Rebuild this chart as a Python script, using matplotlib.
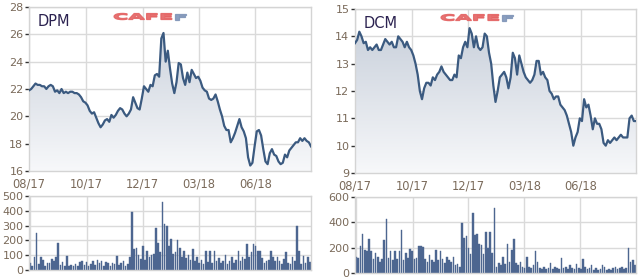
import numpy as np
import matplotlib
matplotlib.use("Agg")
import matplotlib.pyplot as plt
from matplotlib.textpath import TextPath
from matplotlib.patches import PathPatch
from matplotlib.font_manager import FontProperties
from matplotlib.transforms import Affine2D, IdentityTransform

# ---------------- data ----------------
x_labels = ["08/17", "10/17", "12/17", "03/18", "06/18"]
x_label_frac = [0.0, 0.203, 0.403, 0.603, 0.803]

dpm_price = [21.9, 22.0, 22.2, 22.4, 22.3, 22.3, 22.2, 22.2, 22.0, 22.2,
             22.3, 22.2, 21.8, 21.9, 21.7, 22.0, 21.7, 21.8, 21.7, 21.8,
             21.8, 21.7, 21.7, 21.6, 21.4, 21.1, 21.0, 20.8, 20.4, 20.2,
             20.3, 19.9, 19.5, 19.2, 19.4, 19.7, 19.8, 19.6, 20.1, 19.9,
             20.1, 20.4, 20.6, 20.5, 20.2, 20.0, 20.2, 20.5, 21.4, 21.0,
             20.6, 20.5, 21.3, 22.2, 22.0, 21.8, 22.3, 22.2, 23.0, 23.1,
             22.9, 25.7, 26.1, 24.0, 24.8, 23.5, 22.4, 21.7, 22.5, 23.9,
             23.8, 22.8, 22.3, 23.2, 22.5, 23.4, 23.1, 22.8, 22.9, 22.6,
             22.1, 21.9, 21.8, 21.3, 21.2, 21.3, 21.6, 21.1, 20.5, 20.0,
             19.3, 19.0, 19.0, 18.1, 18.4, 18.8, 19.3, 19.8, 19.2, 18.9,
             18.4, 17.0, 16.4, 16.6, 17.8, 18.9, 19.0, 18.6, 17.6, 16.7,
             16.5, 17.3, 17.6, 17.2, 17.1, 16.7, 16.5, 16.6, 17.2, 17.0,
             17.5, 17.7, 17.9, 18.1, 18.1, 18.4, 18.2, 18.4, 18.2, 18.1,
             17.8]

dpm_volume = [50, 30, 85, 250, 40, 85, 70, 30, 50, 45,
              75, 60, 85, 180, 35, 55, 25, 95, 30, 35,
              25, 40, 30, 55, 60, 35, 55, 30, 40, 60,
              35, 65, 45, 60, 30, 55, 45, 30, 50, 40,
              95, 35, 45, 60, 30, 40, 85, 395, 140, 150,
              100, 75, 165, 70, 130, 90, 100, 110, 285, 180,
              120, 460, 310, 300, 160, 210, 110, 120, 200, 150,
              90, 130, 80, 100, 70, 140, 60, 90, 45, 70,
              40, 130, 55, 130, 45, 130, 60, 80, 50, 60,
              100, 40, 60, 90, 50, 70, 130, 60, 85, 75,
              175, 90, 120, 175, 160, 130, 130, 80, 45, 60,
              70, 130, 90, 60, 85, 60, 40, 75, 120, 50,
              40, 85, 60, 300, 130, 40, 95, 50, 90, 55]

dcm_price = [13.75, 13.87, 14.17, 14.0, 13.75, 13.8, 13.5, 13.6, 13.5, 13.6,
             13.7, 13.5, 13.5, 13.7, 13.9, 13.8, 13.7, 13.8, 13.6, 13.6,
             14.0, 13.9, 13.8, 13.6, 13.8, 13.6, 13.5, 13.3, 13.0, 12.6,
             12.0, 11.7, 12.1, 12.3, 12.3, 12.2, 12.5, 12.4, 12.6, 12.7,
             12.9, 12.7, 12.6, 12.5, 12.4, 12.4, 12.6, 12.5, 13.3, 13.2,
             13.6, 13.8, 13.6, 14.3, 14.1, 13.6, 14.0, 13.6, 13.5, 13.6,
             14.1, 14.0, 13.4, 13.0, 12.2, 11.6, 12.0, 12.5, 12.6, 12.7,
             12.5, 12.1, 12.5, 13.4, 13.2, 12.6, 13.3, 13.0, 12.7, 12.5,
             12.4, 12.3, 12.4, 12.6, 13.1, 13.1, 12.6, 12.7, 12.5, 12.4,
             12.0, 11.9, 11.7, 11.8, 11.8, 11.5, 11.4, 11.3, 11.1, 10.8,
             10.5, 10.0, 10.3, 10.5, 11.0, 10.9, 11.7, 11.4, 11.5, 11.1,
             10.6, 11.0, 10.8, 10.8, 10.6, 10.1, 10.0, 10.2, 10.1, 10.2,
             10.3, 10.2, 10.3, 10.4, 10.3, 10.3, 10.3, 11.0, 11.1, 10.9,
             10.9]

dcm_volume = [130, 120, 210, 310, 180, 170, 270, 170, 110, 160,
              130, 90, 110, 260, 430, 120, 170, 100, 170, 110,
              170, 340, 100, 160, 120, 190, 170, 110, 120, 210,
              215, 205, 110, 90, 140, 100, 90, 180, 100, 170,
              110, 80, 130, 100, 90, 130, 60, 70, 50, 395,
              280, 290, 200, 150, 470, 300, 310, 230, 220, 150,
              320, 200, 320, 160, 515, 50, 80, 60, 130, 70,
              230, 90, 180, 270, 80, 60, 90, 50, 40, 130,
              50, 40, 60, 170, 90, 40, 30, 50, 30, 40,
              80, 30, 50, 40, 30, 120, 40, 50, 30, 60,
              40, 30, 70, 40, 30, 110, 50, 30, 40, 60,
              25, 40, 20, 30, 60, 50, 20, 30, 25, 40,
              50, 30, 40, 50, 30, 40, 200, 90, 100, 60]

dpm_yticks = [16, 18, 20, 22, 24, 26, 28]
dpm_vticks = [0, 100, 200, 300, 400, 500]
dcm_yticks = [9, 10, 11, 12, 13, 14, 15]
dcm_vticks = [0, 200, 400, 600]

# ---------------- style ----------------
W, H = 640, 279
LINE = "#3b5a80"
BAR = "#4d6690"
GRID = "#dadada"
TICKC = "#7a6a5a"
DPI = 100

fig = plt.figure(figsize=(W / DPI, H / DPI), dpi=DPI)
fig.patch.set_facecolor("white")


def px_axes(x0, x1, ytop, ybot):
    return fig.add_axes([x0 / W, 1 - ybot / H, (x1 - x0) / W, (ybot - ytop) / H])


def style(ax, yticks, xticks, show_xlabels):
    ax.set_yticks(yticks)
    ax.set_xticks(xticks)
    if show_xlabels:
        ax.set_xticklabels(x_labels)
    else:
        ax.set_xticklabels([])
    ax.grid(True, color=GRID, linewidth=1.0)
    ax.set_axisbelow(True)
    for s in ax.spines.values():
        s.set_color("#d4d4d4")
        s.set_linewidth(1.0)
    ax.tick_params(axis="y", length=3, width=1, color="#333333",
                   labelsize=8, labelcolor=TICKC, pad=1)
    ax.tick_params(axis="x", length=0, labelsize=8.3, labelcolor=TICKC, pad=5)


def price_panel(ax, values, yticks, name):
    n = len(values)
    xs = np.arange(n)
    ylo, yhi = yticks[0], yticks[-1]
    ax.set_xlim(0, n - 1)
    ax.set_ylim(ylo, yhi)
    poly = ax.fill_between(xs, values, ylo, color="none", linewidth=0)
    grad = np.linspace(0, 1, 256).reshape(-1, 1)
    cmap = matplotlib.colors.LinearSegmentedColormap.from_list(
        "g", ["#f7f8fa", "#c4ccd8"])
    im = ax.imshow(grad, extent=[0, n - 1, ylo, yhi], origin="lower",
                   aspect="auto", cmap=cmap, zorder=1.5)
    im.set_clip_path(poly.get_paths()[0], transform=ax.transData)
    ax.plot(xs, values, color=LINE, linewidth=1.6, zorder=3,
            solid_joinstyle="round")
    ticks = [f * (n - 1) for f in x_label_frac]
    style(ax, yticks, ticks, True)
    ax.text(0.03, 0.91, name, transform=ax.transAxes, fontsize=10.5,
            color="#2b2250", va="center", ha="left")


def volume_panel(ax, values, yticks):
    n = len(values)
    xs = np.arange(n)
    ax.bar(xs, values, width=0.75, color=BAR, edgecolor=BAR, linewidth=0.3,
           zorder=2)
    ax.set_xlim(-0.5, n - 0.5)
    ax.set_ylim(yticks[0], yticks[-1])
    ticks = [f * (n - 1) for f in x_label_frac]
    style(ax, yticks, ticks, False)


def logo(x, ytop):
    prop = FontProperties(family="DejaVu Sans", weight="bold")
    size = 10
    tp1 = TextPath((0, 0), "CAFE", size=size, prop=prop)
    tp2 = TextPath((0, 0), "F", size=size, prop=prop)
    w1 = tp1.get_extents().width
    sx = 2.1
    sy = 0.82
    ybase = H - ytop - 8.5
    t1 = Affine2D().scale(sx, sy).translate(x, ybase)
    t2 = Affine2D().scale(sx, sy).translate(x + (w1 + 1.2) * sx, ybase)
    p1 = PathPatch(t1.transform_path(tp1), facecolor="#e46464",
                   edgecolor="#e46464", linewidth=0.9, alpha=0.9,
                   transform=IdentityTransform())
    p2 = PathPatch(t2.transform_path(tp2), facecolor="#7f95b8",
                   edgecolor="#7f95b8", linewidth=0.9, alpha=0.9,
                   transform=IdentityTransform())
    fig.patches.append(p1)
    fig.patches.append(p2)


ax1 = px_axes(29, 311, 7, 171)
price_panel(ax1, dpm_price, dpm_yticks, "DPM")
ax2 = px_axes(29, 311, 196, 270)
volume_panel(ax2, dpm_volume, dpm_vticks)

ax3 = px_axes(355, 636, 9, 173)
price_panel(ax3, dcm_price, dcm_yticks, "DCM")
ax4 = px_axes(355, 636, 197, 273)
volume_panel(ax4, dcm_volume, dcm_vticks)

logo(113, 11)
logo(440, 12)

fig.savefig("out.png", dpi=DPI, facecolor="white")
